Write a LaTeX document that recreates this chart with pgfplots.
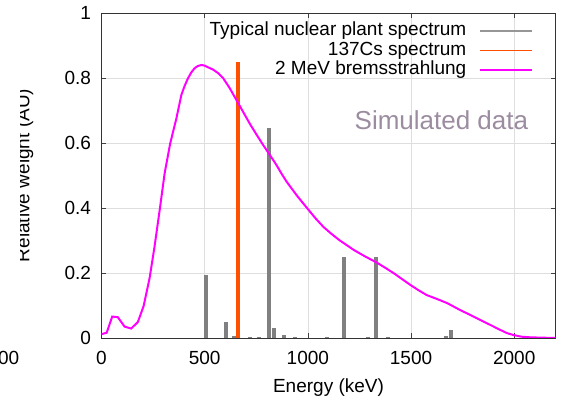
\documentclass[border=0pt]{standalone}
\usepackage{fontspec}
\setmainfont{Liberation Sans}
\usepackage{pgfplots}
\pgfplotsset{compat=1.18}
\definecolor{barGray}{RGB}{128,128,128}
\definecolor{legGray}{RGB}{150,150,150}
\definecolor{csOrange}{RGB}{255,80,0}
\definecolor{bremMag}{RGB}{255,0,255}
\definecolor{simText}{RGB}{155,140,160}
\definecolor{gridGray}{RGB}{222,222,222}
\begin{document}
\begin{tikzpicture}[font=\fontsize{19}{21}\selectfont]
\begin{axis}[
  at={(0pt,0pt)}, anchor=south west,
  scale only axis, width=454pt, height=325pt,
  xmin=0, xmax=2200, ymin=0, ymax=1,
  xtick={0,500,1000,1500,2000},
  ytick={0,0.2,0.4,0.6,0.8,1},
  yticklabels={0,0.2,0.4,0.6,0.8,1},
  /pgf/number format/1000 sep={},
  /pgf/number format/assume math mode=true,
  grid=major, major grid style={gridGray, line width=0.6pt},
  tick align=inside, major tick length=5pt,
  tick style={black!75, line width=0.6pt},
  axis line style={black!80, line width=0.8pt},
  xticklabel style={anchor=base, yshift=-26.5pt},
  yticklabel style={xshift=-7pt},
  xlabel={Energy (keV)},
  xlabel style={at={(axis description cs:0.5,0)}, anchor=base, yshift=-55pt},
  legend cell align=right, legend plot pos=right,
  legend style={at={(1,1)}, anchor=north east, xshift=-22pt, yshift=-8pt,
    draw=none, fill=none, inner sep=0pt, column sep=12pt,
    nodes={inner sep=1pt, text height=13.5pt, text depth=4pt}},
]
\addplot[ycomb, barGray, line width=4pt, mark=none,
  legend image code/.code={\draw[draw=legGray, line width=2pt] (0pt,0pt) -- (52pt,0pt);}]
  coordinates {
  (508,0.195) (601,0.05) (642,0.005) (721,0.004) (761,0.004)
  (810,0.645) (836,0.031) (884,0.008) (939,0.004) (1093,0.004)
  (1173,0.248) (1292,0.004) (1332,0.25) (1389,0.003)
  (1667,0.005) (1692,0.024)
  };
\addlegendentry{Typical nuclear plant spectrum}
\addplot[ycomb, csOrange, line width=4.5pt, mark=none,
  legend image code/.code={\draw[draw=csOrange, line width=1.8pt] (0pt,0pt) -- (52pt,0pt);}]
  coordinates {(662,0.85)};
\addlegendentry{137Cs spectrum}
\addplot[bremMag, line width=2pt, mark=none,
  legend image code/.code={\draw[draw=bremMag, line width=2pt] (0pt,0pt) -- (52pt,0pt);}]
  coordinates {
  (0,0.012) (25,0.016) (52,0.066) (79,0.064) (112,0.035) (144,0.029)
  (176,0.049) (204,0.098) (233,0.184) (257,0.281) (282,0.394) (306,0.507)
  (333,0.599) (363,0.676) (387,0.748) (403,0.776) (419,0.799) (435,0.817)
  (451,0.830) (467,0.837) (484,0.840) (500,0.838) (516,0.833) (540,0.826)
  (565,0.815) (589,0.800) (622,0.768) (654,0.732) (686,0.696) (718,0.660)
  (750,0.627) (783,0.594) (816,0.563) (848,0.532) (872,0.506) (897,0.481)
  (947,0.438) (997,0.399) (1036,0.369) (1075,0.342) (1115,0.320)
  (1155,0.300) (1190,0.285) (1222,0.271) (1280,0.250) (1334,0.232)
  (1375,0.216) (1417,0.199) (1457,0.181) (1495,0.164) (1536,0.147)
  (1576,0.132) (1626,0.120) (1676,0.107) (1738,0.086) (1790,0.070)
  (1837,0.055) (1885,0.040) (1932,0.025) (1965,0.015) (1997,0.009)
  (2035,0.004) (2078,0.002) (2140,0.001) (2200,0.0)
  };
\addlegendentry{2 MeV bremsstrahlung}
\node[anchor=base, text=simText, font=\fontsize{26}{28}\selectfont] at (axis cs:1647,0.64) {Simulated data};
\end{axis}
\node[rotate=90, anchor=base, inner sep=0pt] at (-72pt,162.5pt) {Relative weight (AU)};
\fill[white] (-130pt,40pt) rectangle (-81pt,290pt);
\node[anchor=base east, inner sep=0pt] at (-82pt,-26.5pt) {00};
\pgfresetboundingbox
\path[use as bounding box] (-101.5pt,-60pt) rectangle (460.5pt,338pt);
\end{tikzpicture}
\end{document}
